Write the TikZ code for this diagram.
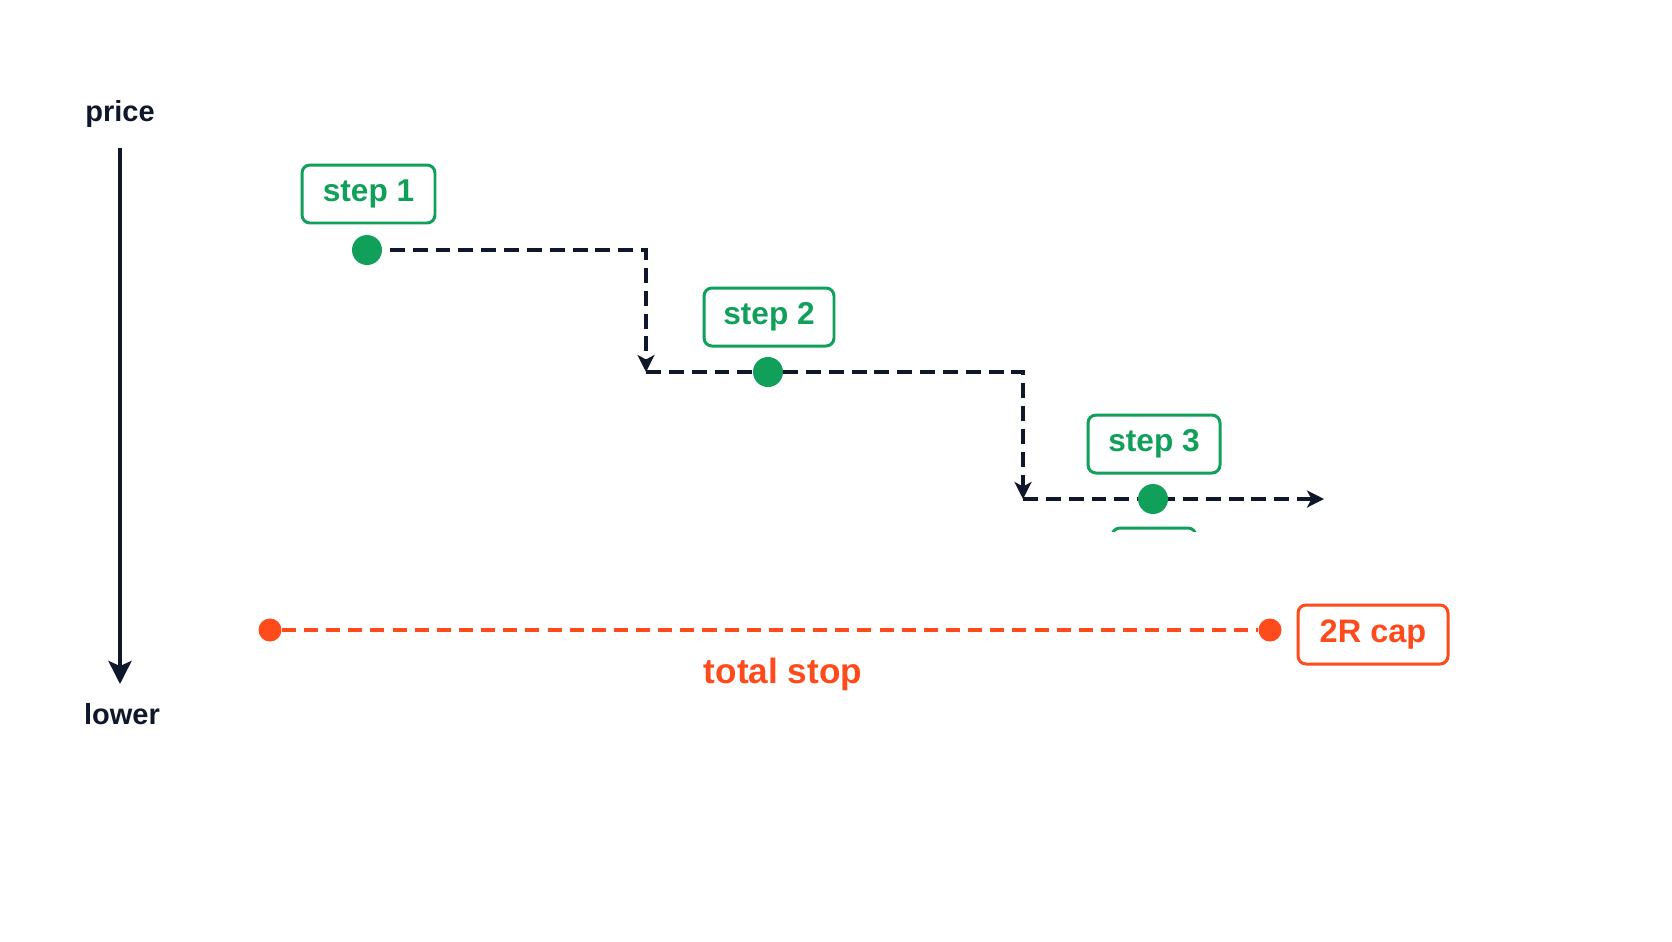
\documentclass[tikz,border=0pt]{standalone}
\usepackage{fontspec}
\setmainfont{Liberation Sans}
\usetikzlibrary{arrows.meta}
\definecolor{grn}{RGB}{16,160,90}
\definecolor{redo}{RGB}{255,74,28}
\definecolor{navy}{RGB}{15,23,42}
\tikzset{
  axislabel/.style={font=\bfseries\fontsize{16.5}{19}\selectfont, text=navy, inner sep=0pt},
  stepbox/.style={draw=grn, line width=1.7pt, rounded corners=0.16cm, text=grn,
    font=\bfseries\fontsize{18}{21}\selectfont, minimum width=2.66cm, minimum height=1.16cm, inner sep=0pt},
  capbox/.style={draw=redo, line width=1.7pt, rounded corners=0.16cm, text=redo,
    font=\bfseries\fontsize{18.5}{22}\selectfont, minimum width=3.0cm, minimum height=1.18cm, inner sep=0pt},
  gdot/.style={circle, fill=grn, minimum size=0.6cm, inner sep=0pt},
  rdot/.style={circle, fill=redo, minimum size=0.46cm, inner sep=0pt},
  stepline/.style={draw=navy, line width=1.9pt, dash pattern=on 8.5pt off 4.5pt},
  stepArrow/.style={stepline, -{Stealth[length=0.34cm,width=0.34cm,inset=0.09cm]}},
  stopline/.style={draw=redo, line width=2pt, dash pattern=on 8pt off 4.6pt},
}
\begin{document}
\begin{tikzpicture}[x=0.02cm,y=-0.02cm]
\useasboundingbox[fill=white] (0,0) rectangle (1672,941);
% axis
\node[axislabel] (price) at (120,114) {price};
\node[axislabel] (lower) at (122,714) {lower};
\coordinate (axtop) at (120,148);
\coordinate (axbot) at (120,684);
\draw[navy, line width=0.08cm, -{Stealth[length=0.46cm,width=0.46cm,inset=0.1cm]}] (axtop) -- (axbot);
% step path coordinates
\coordinate (c0) at (367,250);
\coordinate (c1) at (646,250);
\coordinate (c2) at (646,372);
\coordinate (c3) at (1023,372);
\coordinate (c4) at (1023,499);
\coordinate (c5) at (1324,499);
\draw[stepArrow] (c0) -- (c1) -- (c2);
\draw[stepArrow] (c2) -- (c3) -- (c4);
\draw[stepArrow] (c4) -- (c5);
% step boxes and dots
\node[stepbox] (s1) at (368.5,194) {step 1};
\node[gdot] (d1) at (367,250) {};
\node[stepbox, minimum width=2.6cm] (s2) at (769,317) {step 2};
\node[gdot] (d2) at (768,372) {};
\node[stepbox, minimum width=2.64cm] (s3) at (1154,444) {step 3};
\node[gdot] (d3) at (1153,499) {};
% clipped sliver of a box below step 3
\begin{scope}
\clip (1100,520) rectangle (1210,531);
\draw[draw=grn, line width=1.7pt, rounded corners=0.16cm] (1112,528) rectangle (1196,590);
\end{scope}
% total stop
\node[rdot] (r1) at (270,630) {};
\node[rdot] (r2) at (1270,630) {};
\draw[stopline] (r1) -- (r2);
\node[font=\bfseries\fontsize{20}{24}\selectfont, text=redo, inner sep=0pt] (ts) at (783,674) {total stop};
\node[capbox] (cap) at (1373,634.5) {2R cap};
\end{tikzpicture}
\end{document}
